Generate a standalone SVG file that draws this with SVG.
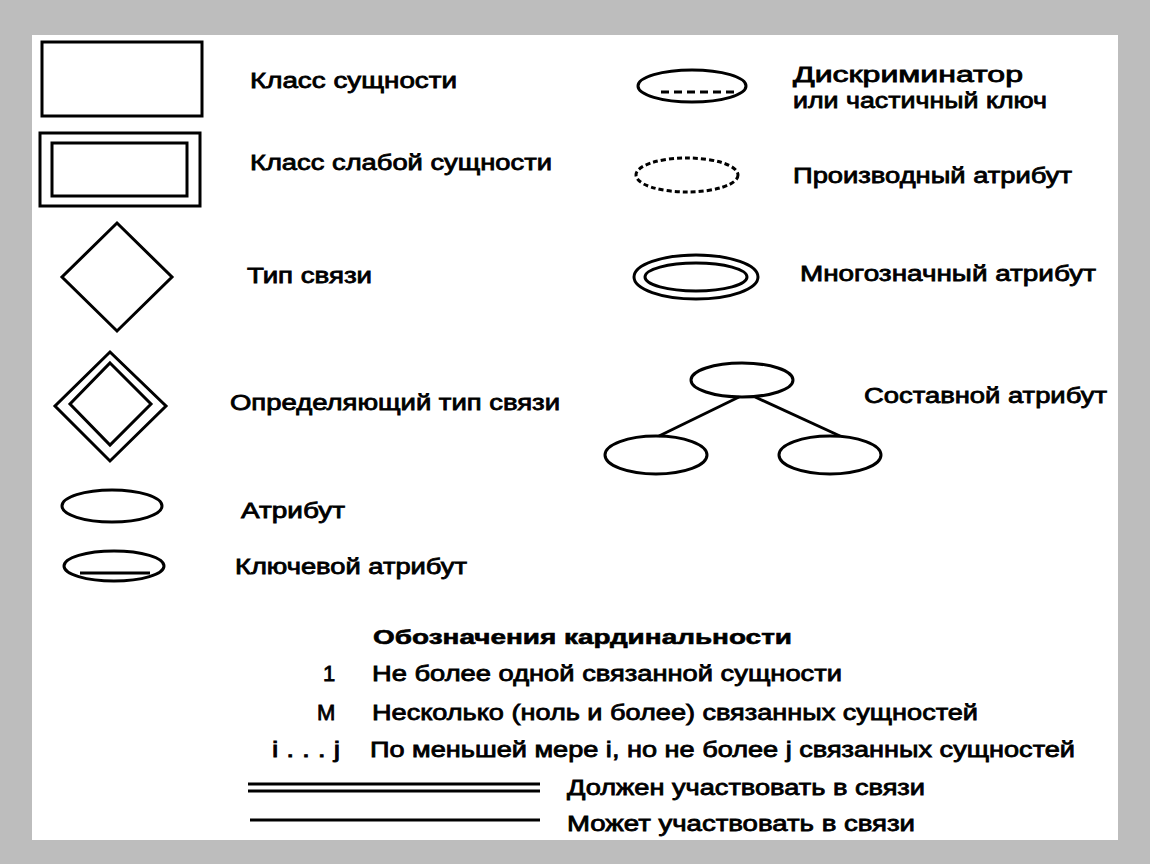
<svg xmlns="http://www.w3.org/2000/svg" width="1150" height="864" viewBox="0 0 1150 864">
<style>
.s{fill:none;stroke:#000;stroke-width:3}
.t{font-family:"Liberation Sans",Arial,sans-serif;font-size:22px;fill:#000;stroke:#000;stroke-width:0.8}
.h{font-family:"Liberation Sans",Arial,sans-serif;font-size:21px;font-weight:bold;fill:#000;stroke:#000;stroke-width:0.6}
</style>
<rect x="0" y="0" width="1150" height="864" fill="#bdbdbd"/>
<rect x="32" y="35" width="1086" height="805" fill="#fff"/>
<g id="entity">
<rect class="s" x="42" y="42" width="160" height="74"/>
<text class="t" x="250" y="88" textLength="207" lengthAdjust="spacingAndGlyphs">Класс сущности</text>
</g>
<g id="weak-entity">
<rect class="s" x="40" y="133" width="160" height="73"/>
<rect class="s" x="52" y="143" width="135" height="53"/>
<text class="t" x="250" y="170" textLength="302" lengthAdjust="spacingAndGlyphs">Класс слабой сущности</text>
</g>
<g id="relationship">
<polygon class="s" points="117,223 172,277 117,331 62,277"/>
<text class="t" x="247" y="283" textLength="125" lengthAdjust="spacingAndGlyphs">Тип связи</text>
</g>
<g id="identifying-relationship">
<polygon class="s" points="110,352 166,406 110,461 55,406"/>
<polygon class="s" points="110,363 151,404 110,445 70,404"/>
<text class="t" x="230" y="410" textLength="330" lengthAdjust="spacingAndGlyphs">Определяющий тип связи</text>
</g>
<g id="attribute">
<ellipse class="s" cx="112" cy="506" rx="50" ry="16"/>
<text class="t" x="241" y="518" textLength="104" lengthAdjust="spacingAndGlyphs">Атрибут</text>
</g>
<g id="key-attribute">
<ellipse class="s" cx="114" cy="566" rx="50" ry="15"/>
<line class="s" x1="80" y1="573" x2="150" y2="573"/>
<text class="t" x="235" y="574" textLength="232" lengthAdjust="spacingAndGlyphs">Ключевой атрибут</text>
</g>
<g id="discriminator">
<ellipse class="s" cx="692" cy="86" rx="54" ry="16"/>
<line class="s" x1="661" y1="92" x2="737" y2="92" stroke-dasharray="8,5"/>
<text class="t" x="793" y="82" textLength="230" lengthAdjust="spacingAndGlyphs">Дискриминатор</text>
<text class="t" x="793" y="108" textLength="254" lengthAdjust="spacingAndGlyphs">или частичный ключ</text>
</g>
<g id="derived-attribute">
<ellipse class="s" cx="687" cy="175" rx="51" ry="17" stroke-dasharray="5,3"/>
<text class="t" x="793" y="183" textLength="279" lengthAdjust="spacingAndGlyphs">Производный атрибут</text>
</g>
<g id="multivalued-attribute">
<ellipse class="s" cx="696" cy="277" rx="62" ry="22"/>
<ellipse class="s" cx="696" cy="277" rx="51" ry="14"/>
<text class="t" x="800" y="281" textLength="296" lengthAdjust="spacingAndGlyphs">Многозначный атрибут</text>
</g>
<g id="composite-attribute">
<ellipse class="s" cx="742" cy="380" rx="51" ry="17"/>
<ellipse class="s" cx="656" cy="455" rx="51" ry="19"/>
<ellipse class="s" cx="830" cy="455" rx="51" ry="19"/>
<text class="t" x="864" y="403" textLength="243" lengthAdjust="spacingAndGlyphs">Составной атрибут</text>
</g>
<g id="connectors">
<line class="s" x1="739" y1="397" x2="659" y2="436"/>
<line class="s" x1="755" y1="397" x2="840" y2="436"/>
</g>
<g id="cardinality">
<text class="h" x="373" y="644" textLength="419" lengthAdjust="spacingAndGlyphs">Обозначения кардинальности</text>
<text class="t" x="323" y="681">1</text>
<text class="t" x="372" y="681" textLength="470" lengthAdjust="spacingAndGlyphs">Не более одной связанной сущности</text>
<text class="t" x="317" y="720">M</text>
<text class="t" x="372" y="720" textLength="606" lengthAdjust="spacingAndGlyphs">Несколько (ноль и более) связанных сущностей</text>
<text class="t" x="272" y="757" textLength="68" lengthAdjust="spacingAndGlyphs">i . . . j</text>
<text class="t" x="370" y="757" textLength="705" lengthAdjust="spacingAndGlyphs">По меньшей мере i, но не более j связанных сущностей</text>
</g>
<g id="participation">
<line class="s" x1="248" y1="784" x2="540" y2="784"/>
<line class="s" x1="248" y1="791" x2="540" y2="791"/>
<text class="t" x="567" y="795" textLength="358" lengthAdjust="spacingAndGlyphs">Должен участвовать в связи</text>
<line class="s" x1="250" y1="820" x2="540" y2="820"/>
<text class="t" x="567" y="831" textLength="348" lengthAdjust="spacingAndGlyphs">Может участвовать в связи</text>
</g>
</svg>
